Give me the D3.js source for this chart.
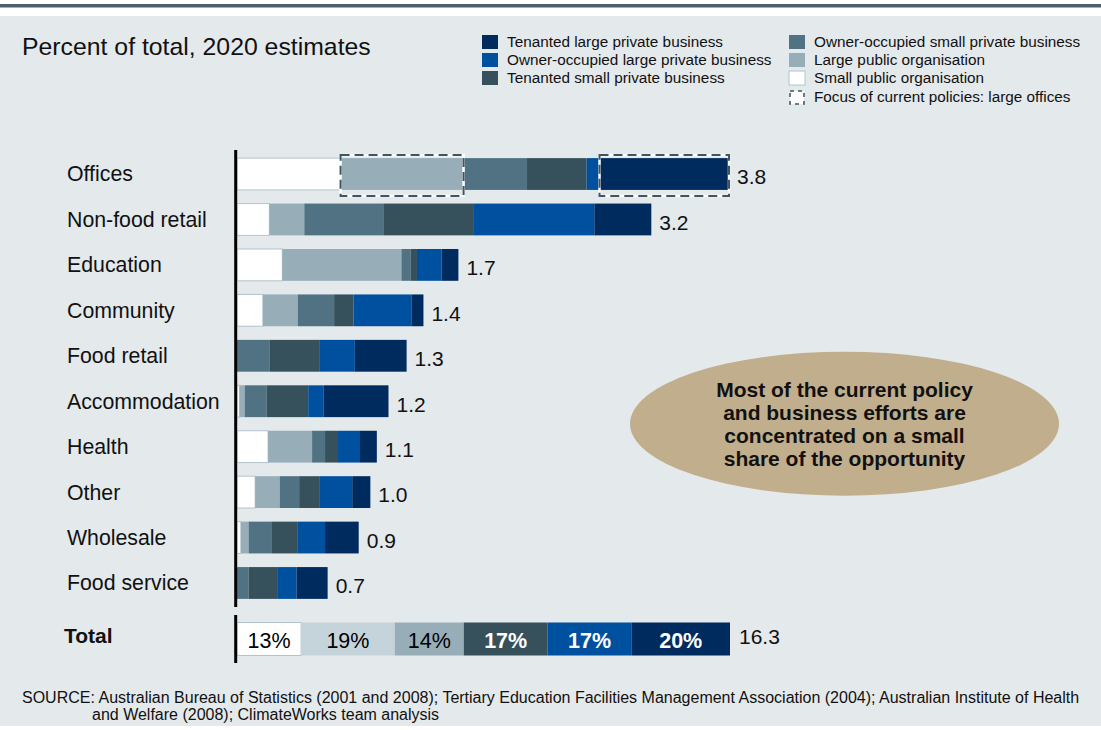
<!DOCTYPE html>
<html>
<head>
<meta charset="utf-8">
<script src="https://cdn.jsdelivr.net/npm/d3@7"></script>
<style>
  body { margin: 0; background: #fff; }
  svg text { font-family: Arial, "Liberation Sans", sans-serif; }
</style>
</head>
<body>
<script>
var w = 1101;
var h = 730;

var categories = ["Offices", "Non-food retail", "Education", "Community", "Food retail",
  "Accommodation", "Health", "Other", "Wholesale", "Food service"];

// segments, left to right
var smallPublic   = [0.80, 0.25, 0.35, 0.20, 0.00, 0.02, 0.24, 0.14, 0.03, 0.00];
var largePublic   = [0.95, 0.27, 0.92, 0.27, 0.00, 0.04, 0.34, 0.19, 0.06, 0.00];
var ownerSmall    = [0.49, 0.61, 0.07, 0.28, 0.25, 0.17, 0.10, 0.15, 0.18, 0.09];
var tenantedSmall = [0.46, 0.70, 0.05, 0.15, 0.39, 0.32, 0.10, 0.16, 0.20, 0.22];
var ownerLarge    = [0.10, 0.93, 0.19, 0.45, 0.27, 0.12, 0.17, 0.25, 0.21, 0.15];
var tenantedLarge = [1.00, 0.44, 0.13, 0.09, 0.40, 0.50, 0.13, 0.14, 0.26, 0.24];
var barLabels = ["3.8", "3.2", "1.7", "1.4", "1.3", "1.2", "1.1", "1.0", "0.9", "0.7"];

var totalPct = [13, 19, 14, 17, 17, 20];
var totalLabel = "16.3";

var seriesKeys = ["smallPublic", "largePublic", "ownerSmall", "tenantedSmall", "ownerLarge", "tenantedLarge"];
var seriesNames = {
  tenantedLarge: "Tenanted large private business",
  ownerLarge: "Owner-occupied large private business",
  tenantedSmall: "Tenanted small private business",
  ownerSmall: "Owner-occupied small private business",
  largePublic: "Large public organisation",
  smallPublic: "Small public organisation"
};
var colors = {
  smallPublic: "#ffffff",
  largePublic: "#97adb8",
  ownerSmall: "#507282",
  tenantedSmall: "#36515b",
  ownerLarge: "#0050a0",
  tenantedLarge: "#002b5e"
};
var totalColors = ["#ffffff", "#c5d4da", "#97adb8", "#36515b", "#0050a0", "#002b5e"];
var totalTextColors = ["#000", "#000", "#000", "#fff", "#fff", "#fff"];

var table = categories.map(function(c, i) {
  return {
    cat: c,
    smallPublic: smallPublic[i], largePublic: largePublic[i], ownerSmall: ownerSmall[i],
    tenantedSmall: tenantedSmall[i], ownerLarge: ownerLarge[i], tenantedLarge: tenantedLarge[i],
    label: barLabels[i]
  };
});

var svg = d3.select("body").append("svg")
  .attr("width", w)
  .attr("height", h);

// background
svg.append("rect").attr("x", 0).attr("y", 0).attr("width", w).attr("height", h).attr("fill", "#fff");
svg.append("rect").attr("x", 0).attr("y", 4).attr("width", w).attr("height", 3.5).attr("fill", "#4d5f6a");
svg.append("rect").attr("x", 0).attr("y", 16).attr("width", w).attr("height", 710).attr("fill", "#e4e9ec");

svg.append("text")
  .attr("x", 22).attr("y", 55)
  .attr("font-size", 24.8)
  .attr("fill", "#111")
  .text("Percent of total, 2020 estimates");

var xScale = d3.scaleLinear().domain([0, 3.8]).range([237, 729]);
var yScale = d3.scaleBand().domain(categories).range([151.3, 605.7]).paddingInner(0.3).paddingOuter(0.15);

var stack = d3.stack().keys(seriesKeys);
var layers = stack(table);

var gBars = svg.append("g");
gBars.selectAll("g.layer")
  .data(layers)
  .enter()
  .append("g")
  .attr("class", "layer")
  .attr("fill", function(d) { return colors[d.key]; })
  .each(function(layer) {
    d3.select(this).selectAll("rect")
      .data(layer)
      .enter()
      .append("rect")
      .attr("x", function(d) { return xScale(d[0]); })
      .attr("y", function(d) { return yScale(d.data.cat); })
      .attr("width", function(d) { return Math.max(0, xScale(d[1]) - xScale(d[0])); })
      .attr("height", yScale.bandwidth())
      .attr("stroke", layer.key === "smallPublic" ? "#b3c4cc" : "none")
      .attr("stroke-width", 1);
  });

// category labels
svg.selectAll("text.cat")
  .data(categories)
  .enter()
  .append("text")
  .attr("class", "cat")
  .attr("x", 67)
  .attr("y", function(d) { return yScale(d) + yScale.bandwidth() / 2; })
  .attr("dy", "0.35em")
  .attr("font-size", 21.3)
  .attr("fill", "#111")
  .text(function(d) { return d; });

// value labels
var lastLayer = layers[layers.length - 1];
svg.selectAll("text.val")
  .data(lastLayer)
  .enter()
  .append("text")
  .attr("class", "val")
  .attr("x", function(d) { return xScale(d[1]) + 8; })
  .attr("y", function(d) { return yScale(d.data.cat) + yScale.bandwidth() / 2 + 3; })
  .attr("dy", "0.35em")
  .attr("font-size", 21)
  .attr("fill", "#111")
  .text(function(d) { return d.data.label; });

// focus boxes on Offices: large public + tenanted large
var offices = table[0];
var focusKeys = ["largePublic", "tenantedLarge"];
focusKeys.forEach(function(k) {
  var li = seriesKeys.indexOf(k);
  var seg = layers[li][0];
  var x0 = xScale(seg[0]), x1 = xScale(seg[1]);
  var y0 = yScale(offices.cat) - 3, y1 = yScale(offices.cat) + yScale.bandwidth() + 6;
  svg.append("rect")
    .attr("x", x0).attr("y", y0).attr("width", x1 - x0).attr("height", y1 - y0)
    .attr("fill", "none").attr("stroke", "#fff").attr("stroke-width", 2.5);
  svg.append("rect")
    .attr("x", x0).attr("y", y0).attr("width", x1 - x0).attr("height", y1 - y0)
    .attr("fill", "none").attr("stroke", "#3f5560").attr("stroke-width", 2)
    .attr("stroke-dasharray", "9,5");
});

// total bar
var xTotal = d3.scaleLinear().domain([0, 100]).range([237, 730]);
var totalStack = [];
var acc = 0;
totalPct.forEach(function(p, i) {
  totalStack.push({ x0: acc, x1: acc + p, pct: p, i: i });
  acc += p;
});
var totalY = 622.5, totalH = 33;
svg.selectAll("rect.total")
  .data(totalStack)
  .enter()
  .append("rect")
  .attr("class", "total")
  .attr("x", function(d) { return xTotal(d.x0); })
  .attr("y", totalY)
  .attr("width", function(d) { return xTotal(d.x1) - xTotal(d.x0); })
  .attr("height", totalH)
  .attr("fill", function(d) { return totalColors[d.i]; })
  .attr("stroke", function(d) { return d.i === 0 ? "#b3c4cc" : "none"; });

svg.selectAll("text.totalpct")
  .data(totalStack)
  .enter()
  .append("text")
  .attr("class", "totalpct")
  .attr("x", function(d) { return (xTotal(d.x0) + xTotal(d.x1)) / 2; })
  .attr("y", totalY + totalH / 2 + 1)
  .attr("dy", "0.35em")
  .attr("text-anchor", "middle")
  .attr("font-size", 21.5)
  .attr("font-weight", function(d) { return d.i >= 3 ? "bold" : "normal"; })
  .attr("fill", function(d) { return totalTextColors[d.i]; })
  .text(function(d) { return d.pct + "%"; });

svg.append("text")
  .attr("x", xTotal(100) + 9).attr("y", totalY + totalH / 2 - 2)
  .attr("dy", "0.35em")
  .attr("font-size", 21).attr("fill", "#111")
  .text(totalLabel);

svg.append("text")
  .attr("x", 64).attr("y", totalY + totalH / 2 - 3)
  .attr("dy", "0.35em")
  .attr("font-size", 21).attr("font-weight", "bold").attr("fill", "#111")
  .text("Total");

// axis lines
svg.append("line").attr("x1", 235.7).attr("x2", 235.7).attr("y1", 150).attr("y2", 607)
  .attr("stroke", "#000").attr("stroke-width", 3);
svg.append("line").attr("x1", 235.7).attr("x2", 235.7).attr("y1", 615).attr("y2", 663)
  .attr("stroke", "#000").attr("stroke-width", 3);

// legend
var legendItems = [
  { key: "tenantedLarge", col: 0, row: 0 },
  { key: "ownerLarge", col: 0, row: 1 },
  { key: "tenantedSmall", col: 0, row: 2 },
  { key: "ownerSmall", col: 1, row: 0 },
  { key: "largePublic", col: 1, row: 1 },
  { key: "smallPublic", col: 1, row: 2 }
];
var legX = [482, 789];
var legY = [42, 60, 78, 97];
var leg = svg.append("g");
legendItems.forEach(function(it) {
  leg.append("rect")
    .attr("x", legX[it.col]).attr("y", legY[it.row] - 7)
    .attr("width", 16).attr("height", 14)
    .attr("fill", colors[it.key])
    .attr("stroke", it.key === "smallPublic" ? "#b3c4cc" : "none");
  leg.append("text")
    .attr("x", legX[it.col] + 25).attr("y", legY[it.row])
    .attr("dy", "0.35em")
    .attr("font-size", 15.3).attr("fill", "#111")
    .text(seriesNames[it.key]);
});
leg.append("rect")
  .attr("x", legX[1] + 1).attr("y", legY[3] - 6)
  .attr("width", 14).attr("height", 13)
  .attr("fill", "#fff").attr("stroke", "#3f5560").attr("stroke-width", 1.5)
  .attr("stroke-dasharray", "4,4");
leg.append("text")
  .attr("x", legX[1] + 25).attr("y", legY[3])
  .attr("dy", "0.35em")
  .attr("font-size", 15.3).attr("fill", "#111")
  .text("Focus of current policies: large offices");

// callout
svg.append("ellipse")
  .attr("cx", 844.5).attr("cy", 423.7).attr("rx", 214.5).attr("ry", 72)
  .attr("fill", "#c1ae8c");
var callout = ["Most of the current policy", "and business efforts are",
  "concentrated on a small", "share of the opportunity"];
svg.selectAll("text.callout")
  .data(callout)
  .enter()
  .append("text")
  .attr("class", "callout")
  .attr("x", 844.5)
  .attr("y", function(d, i) { return 397 + i * 23; })
  .attr("text-anchor", "middle")
  .attr("font-size", 21).attr("font-weight", "bold").attr("fill", "#111")
  .text(function(d) { return d; });

// source
svg.append("text")
  .attr("x", 22).attr("y", 703)
  .attr("font-size", 16).attr("fill", "#111")
  .text("SOURCE: Australian Bureau of Statistics (2001 and 2008); Tertiary Education Facilities Management Association (2004);  Australian Institute of Health");
svg.append("text")
  .attr("x", 92).attr("y", 720)
  .attr("font-size", 16).attr("fill", "#111")
  .text("and Welfare (2008); ClimateWorks team analysis");
</script>
</body>
</html>
